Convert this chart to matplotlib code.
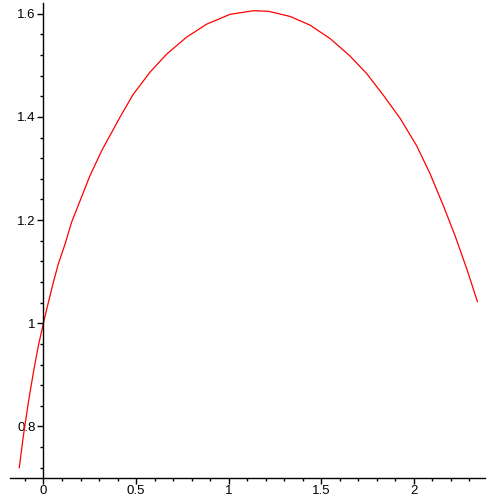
import numpy as np
import matplotlib.pyplot as plt
from matplotlib.ticker import MultipleLocator, FuncFormatter

plt.rcParams['font.family'] = ['Liberation Sans', 'DejaVu Sans']

# points
x = [-0.131, -0.109, -0.082, -0.055, -0.028, 0.0, 0.026, 0.053, 0.080, 0.116,
     0.152, 0.197, 0.251, 0.315, 0.414, 0.485, 0.576, 0.666, 0.774, 0.882,
     1.008, 1.134, 1.215, 1.332, 1.441, 1.549, 1.657, 1.747, 1.837, 1.928,
     2.017, 2.089, 2.161, 2.224, 2.288, 2.345]
y = [0.720, 0.781, 0.846, 0.904, 0.956, 1.001, 1.040, 1.079, 1.115, 1.153,
     1.196, 1.237, 1.286, 1.335, 1.400, 1.444, 1.487, 1.522, 1.555, 1.580,
     1.599, 1.606, 1.605, 1.595, 1.578, 1.552, 1.518, 1.484, 1.442, 1.397,
     1.344, 1.290, 1.228, 1.170, 1.105, 1.042]

fig = plt.figure(figsize=(4.97, 4.97), dpi=100)
ax = fig.add_axes([10/497, 19/497, 475/497, 475/497])
ax.plot(x, y, color='red', lw=0.9)

ax.set_xlim(-0.181, 2.386)
ax.set_ylim(0.700, 1.621)

ax.spines['left'].set_position(('data', 0))
ax.spines['top'].set_visible(False)
ax.spines['right'].set_visible(False)
for s in ['left', 'bottom']:
    ax.spines[s].set_linewidth(1.0)

ax.xaxis.set_major_locator(MultipleLocator(0.5))
ax.xaxis.set_minor_locator(MultipleLocator(0.1))
ax.yaxis.set_major_locator(MultipleLocator(0.2))
ax.yaxis.set_minor_locator(MultipleLocator(0.04))

fmt = FuncFormatter(lambda v, p: ('%g' % round(v, 3)))
ax.xaxis.set_major_formatter(fmt)
ax.yaxis.set_major_formatter(fmt)

ax.tick_params(which='major', length=4, width=1, labelsize=9.5, pad=1.5)
ax.tick_params(axis='x', which='major', pad=1)
ax.tick_params(which='minor', length=2, width=1)

fig.savefig('out.png', dpi=100)
